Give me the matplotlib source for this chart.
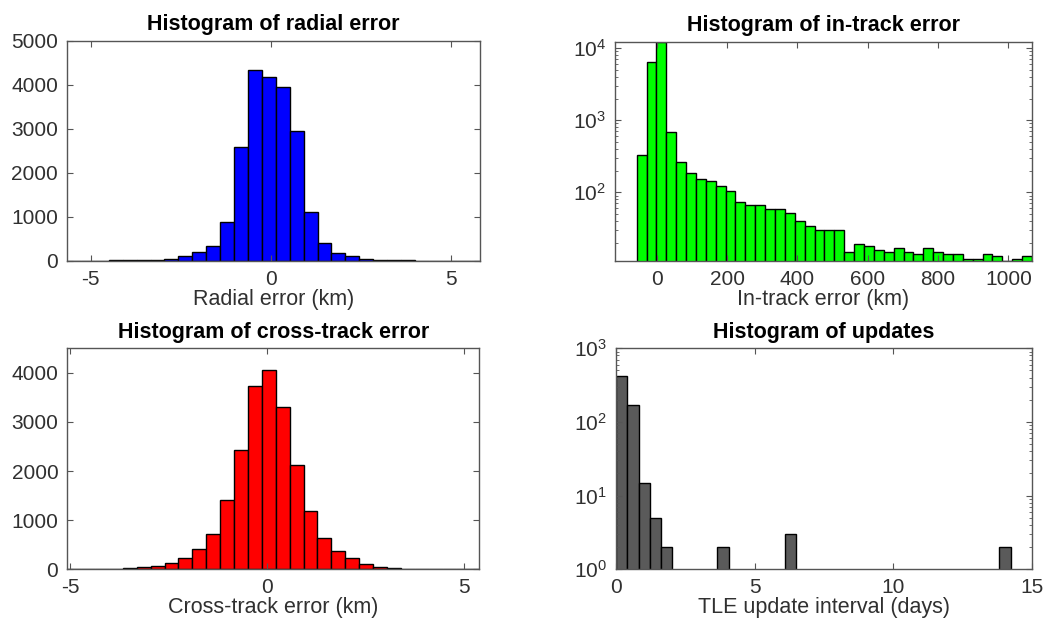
import numpy as np
import matplotlib
matplotlib.use("Agg")
import matplotlib.pyplot as plt
from matplotlib.ticker import LogLocator, NullFormatter, LogFormatterSciNotation

plt.rcParams['font.family'] = ['Liberation Sans', 'DejaVu Sans']
plt.rcParams['mathtext.fontset'] = 'custom'
plt.rcParams['mathtext.rm'] = 'Liberation Sans'
plt.rcParams['mathtext.it'] = 'Liberation Sans'
plt.rcParams['axes.unicode_minus'] = False

# ---------------- data ----------------
# Radial error histogram (30 bins)
radial_start, radial_width = -5.659, 0.386
radial_counts = [1, 2, 3, 5, 8, 15, 23, 45, 118, 197, 333, 886, 2591, 4333, 4167,
                 3955, 2955, 1098, 398, 170, 110, 50, 23, 12, 6, 4, 2, 1, 1, 1]

# In-track error histogram (40 bins)
intrack_start, intrack_width = -57.0, 28.1
intrack_counts = [330, 6390, 12300, 681, 261, 182, 153, 141, 121, 103,
                  73, 66, 66, 58, 58, 51, 40, 34, 30, 30,
                  30, 15, 19, 18, 16, 15, 17, 15, 14, 17,
                  15, 14, 14, 12, 12, 14, 13, 11, 12, 13]

# Cross-track error histogram (30 bins)
cross_start, cross_width = -5.07, 0.3525
cross_counts = [3, 5, 8, 12, 25, 47, 70, 125, 236, 415, 716, 1405, 2432, 3736, 4054,
                3297, 2128, 1182, 628, 368, 220, 101, 54, 30, 15, 8, 5, 3, 2, 1]

# TLE update interval histogram (35 bins)
upd_start, upd_width = 0.0, 0.4066
upd_counts = [425, 168, 15, 5, 2, 0, 0, 0, 0, 2, 0, 0, 0, 0, 0, 3, 0, 0, 0, 0,
              0, 0, 0, 0, 0, 0, 0, 0, 0, 0, 0, 0, 0, 0, 2]

titles = ["Histogram of radial error", "Histogram of in-track error",
          "Histogram of cross-track error", "Histogram of updates"]
xlabels = ["Radial error (km)", "In-track error (km)",
           "Cross-track error (km)", "TLE update interval (days)"]

# ---------------- figure ----------------
W, H = 1044, 621
fig = plt.figure(figsize=(W / 100, H / 100), dpi=100)


def px_axes(l, t, r, b):
    return fig.add_axes([l / W, 1 - b / H, (r - l) / W, (b - t) / H])


axc = '#303030'
fs_tick = 15
fs_label = 15.5
fs_title = 15.5


def style(ax):
    for s in ax.spines.values():
        s.set_color('#555555')
        s.set_linewidth(1.0)
    ax.tick_params(direction='in', top=True, right=True, colors='#555555',
                   labelcolor=axc, labelsize=fs_tick, length=4, width=0.8, pad=6.5)
    ax.tick_params(which='minor', direction='in', top=True, right=True,
                   colors='#555555', length=2, width=0.6)


def draw(ax, start, width, counts, color, log=False):
    counts = np.asarray(counts, dtype=float)
    lefts = start + width * np.arange(len(counts))
    mask = counts > 0
    bottom = 0.1 if log else 0
    ax.bar(lefts[mask], counts[mask] - bottom, width=width,
           bottom=bottom, align='edge', color=color, edgecolor='black',
           linewidth=1.0)


ax1 = px_axes(67, 40.7, 479.5, 260.7)
draw(ax1, radial_start, radial_width, radial_counts, '#0000ff')
ax1.set_xlim(-5.66, 5.78)
ax1.set_ylim(0, 5000)
ax1.set_xticks([-5, 0, 5])
ax1.set_yticks([0, 1000, 2000, 3000, 4000, 5000])

ax2 = px_axes(615, 41.7, 1032, 260.7)
draw(ax2, intrack_start, intrack_width, intrack_counts, '#00ff00', log=True)
ax2.set_yscale('log')
ax2.set_xlim(-118.6, 1067)
ax2.set_ylim(11.2, 12300)
ax2.set_xticks([0, 200, 400, 600, 800, 1000])

ax3 = px_axes(67.3, 348.3, 479.3, 569.3)
draw(ax3, cross_start, cross_width, cross_counts, '#ff0000')
ax3.set_xlim(-5.07, 5.38)
ax3.set_ylim(0, 4500)
ax3.set_xticks([-5, 0, 5])
ax3.set_yticks([0, 1000, 2000, 3000, 4000])

ax4 = px_axes(616, 348.3, 1032, 569.3)
draw(ax4, upd_start, upd_width, upd_counts, '#5a5a5a', log=True)
ax4.set_yscale('log')
ax4.set_xlim(0, 15)
ax4.set_ylim(1, 1000)
ax4.set_xticks([0, 5, 10, 15])

for ax in (ax2, ax4):
    ax.yaxis.set_major_locator(LogLocator(base=10, numticks=10))
    ax.yaxis.set_minor_locator(LogLocator(base=10, subs=np.arange(2, 10), numticks=20))
    ax.yaxis.set_minor_formatter(NullFormatter())
    ax.yaxis.set_major_formatter(LogFormatterSciNotation())

for ax, t, xl in zip((ax1, ax2, ax3, ax4), titles, xlabels):
    style(ax)
    ax.set_title(t, fontsize=fs_title, fontweight='bold', color='black', pad=7.5)
    ax.set_xlabel(xl, fontsize=fs_label, color=axc, labelpad=0)

fig.savefig('out.png', dpi=100)
